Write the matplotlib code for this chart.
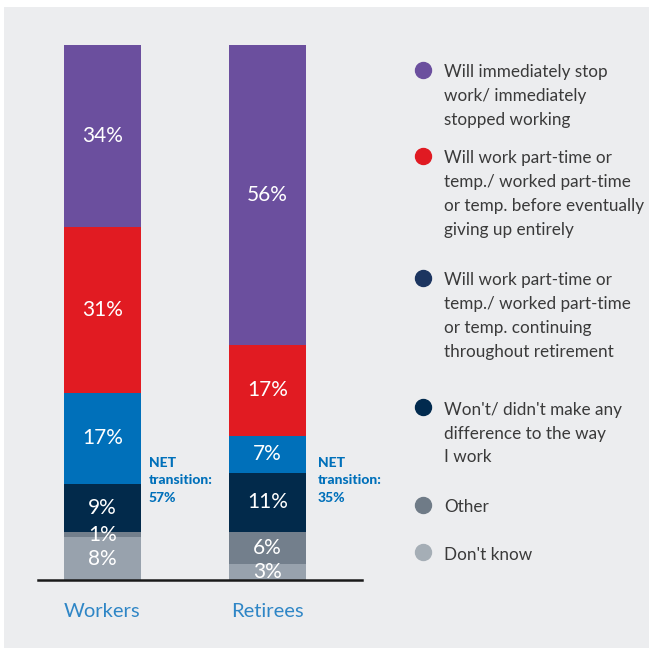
import matplotlib.pyplot as plt
from matplotlib.patches import Rectangle
from matplotlib.lines import Line2D

# Data
groups = ['Workers', 'Retirees']
# stacked from the bottom up
segments = ["Don't know", 'Other', "Won't/ didn't make any difference",
            'Part-time continuing', 'Part-time then stop', 'Immediately stop']
workers = [8, 1, 9, 17, 31, 34]
retirees = [3, 6, 11, 7, 17, 56]
net_transition = [57, 35]

bar_colors = ['#98a2ad', '#737f8c', '#022a4b', '#0070ba', '#e11b22', '#6b4f9e']

legend_labels = [
    'Will immediately stop\nwork/ immediately\nstopped working',
    'Will work part-time or\ntemp./ worked part-time\nor temp. before eventually\ngiving up entirely',
    'Will work part-time or\ntemp./ worked part-time\nor temp. continuing\nthroughout retirement',
    "Won't/ didn't make any\ndifference to the way\nI work",
    'Other',
    "Don't know",
]
legend_colors = ['#6b4f9e', '#e01a22', '#1c3560', '#012a4e', '#6f7b87', '#a5aeb6']
legend_y = [70, 156, 278, 407, 505, 552]  # marker centres, pixels from top

W = H = 649
plt.rcParams['font.family'] = ['Lato', 'DejaVu Sans']

fig = plt.figure(figsize=(6.49, 6.49), dpi=100)
fig.patch.set_facecolor('white')
fig.add_artist(Rectangle((4 / W, 1 - 648 / H), 1, (648 - 7) / H,
                         transform=fig.transFigure, facecolor='#ecedef',
                         edgecolor='none', zorder=0))


def fx(px):
    return px / W


def fy(py):
    return 1 - py / H


ax = fig.add_axes([fx(38), fy(580), fx(362) - fx(38), fy(45) - fy(580)])
ax.set_facecolor('none')
ax.set_xlim(-0.391, 1.573)
ax.set_ylim(0, 100)

bar_w = 0.467
for i, vals in enumerate([workers, retirees]):
    bottom = 0
    for v, c in zip(vals, bar_colors):
        ax.bar(i, v, bottom=bottom, width=bar_w, color=c, edgecolor='none', zorder=2)
        ax.text(i, bottom + v / 2, f'{v}%', ha='center', va='center',
                color='white', fontsize=15, zorder=3)
        bottom += v

for s in ax.spines.values():
    s.set_visible(False)
ax.set_xticks([])
ax.set_yticks([])
ax.axhline(0, color='#1a1a1a', lw=1.8, zorder=4, clip_on=False)

# category labels
for i, g in enumerate(groups):
    x_px = 102.5 + 165 * i
    fig.text(fx(x_px), fy(617), g, ha='center', va='baseline',
             color='#2f86c6', fontsize=14.5)

# NET transition annotations
for i, n in enumerate(net_transition):
    x_px = 149 + 169 * i
    for j, line in enumerate(['NET', 'transition:', f'{n}%']):
        fig.text(fx(x_px), fy(467 + 17.5 * j), line, ha='left', va='baseline',
                 color='#0070ba', fontsize=10, fontweight='black')

# legend
for lab, c, y in zip(legend_labels, legend_colors, legend_y):
    fig.add_artist(Line2D([fx(423)], [fy(y)], marker='o', markersize=11.5,
                          color=c, linestyle='none', transform=fig.transFigure))
    for j, line in enumerate(lab.split('\n')):
        fig.text(fx(444), fy(y + 7.5 + 24 * j), line, ha='left', va='baseline',
                 color='#3a3a3a', fontsize=12.3)

fig.savefig('out.png', dpi=100)
